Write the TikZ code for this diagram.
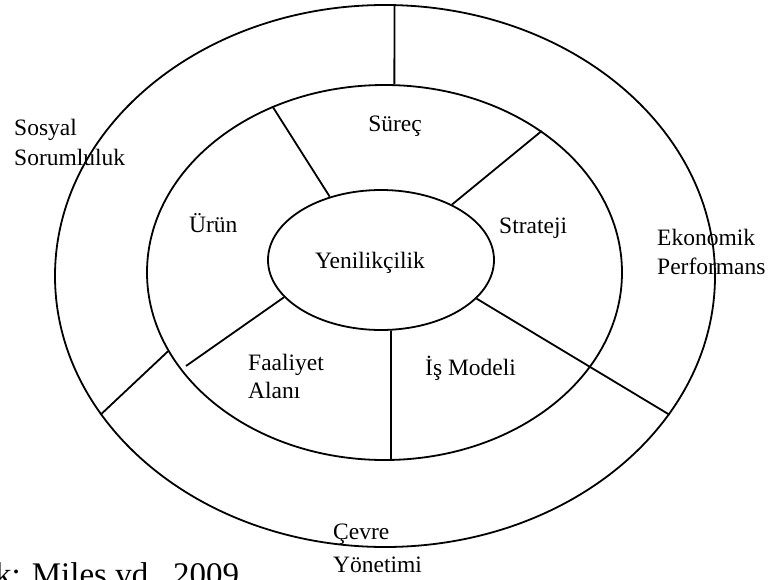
\documentclass[tikz,border=0pt]{standalone}
\usepackage{fontspec}
\setmainfont{Liberation Serif}
\usetikzlibrary{shapes.geometric}
\tikzstyle{ring}=[ellipse, draw, line width=1.8pt, inner sep=0pt]
\tikzstyle{spoke}=[line width=1.8pt]
\tikzset{txt/.style={inner sep=0pt, anchor=base west, font=\fontsize{23.5}{28}\selectfont}}
\tikzset{src/.style={inner sep=0pt, anchor=base west, font=\fontsize{33}{38}\selectfont}}

\begin{document}
\begin{tikzpicture}[x=1pt,y=-1pt]
  \useasboundingbox (0,0) rectangle (769,579);
  \clip (0,0) rectangle (769,579);

  %% Rings
  \draw (385,276) node[ring, minimum width=660pt, minimum height=542pt] (outer) {};
  \draw (384.5,272.5) node[ring, minimum width=475pt, minimum height=375pt] (middle) {};
  \draw (381,260) node[ring, minimum width=226pt, minimum height=140pt] (inner) {};

  %% Spokes
  \draw[spoke] (outer.88.5) -- (middle.87.7);
  \draw[spoke] (outer.206.5) -- (middle.200.9);
  \draw[spoke] (inner.338.9) -- (outer.334.8);
  \draw[spoke] (middle.124.9) -- (inner.129.4);
  \draw[spoke] (inner.38.8) -- (middle.42.5);
  \draw[spoke] (inner.278.9) -- (middle.272.3);
  \coordinate (alanEnd) at (186,366);
  \draw[spoke] (inner.201.1) -- (alanEnd);

  %% Labels
  \draw (14,135) node[txt] (sosyal) {Sosyal};
  \draw (14,165) node[txt] (sorum) {Sorumluluk};
  \draw (395,131) node[txt, anchor=base] (surec) {Süreç};
  \draw (189,232) node[txt] (urun) {Ürün};
  \draw (499,233) node[txt] (strateji) {Strateji};
  \draw (370,268) node[txt, anchor=base] (yenilik) {Yenilikçilik};
  \draw (657,245) node[txt] (ekonomik) {Ekonomik};
  \draw (657,274) node[txt] (perf) {Performans};
  \draw (248,370) node[txt] (faaliyet) {Faaliyet};
  \draw (248,398) node[txt] (alani) {Alanı};
  \draw (425,375) node[txt] (ismodeli) {İş Modeli};
  \draw (333,539) node[txt] (cevre) {Çevre};
  \draw (333,572) node[txt] (yonetim) {Yönetimi};

  %% Source
  \draw (-5,585) node[src] (kaynak) {k: Miles vd., 2009};
\end{tikzpicture}
\end{document}
